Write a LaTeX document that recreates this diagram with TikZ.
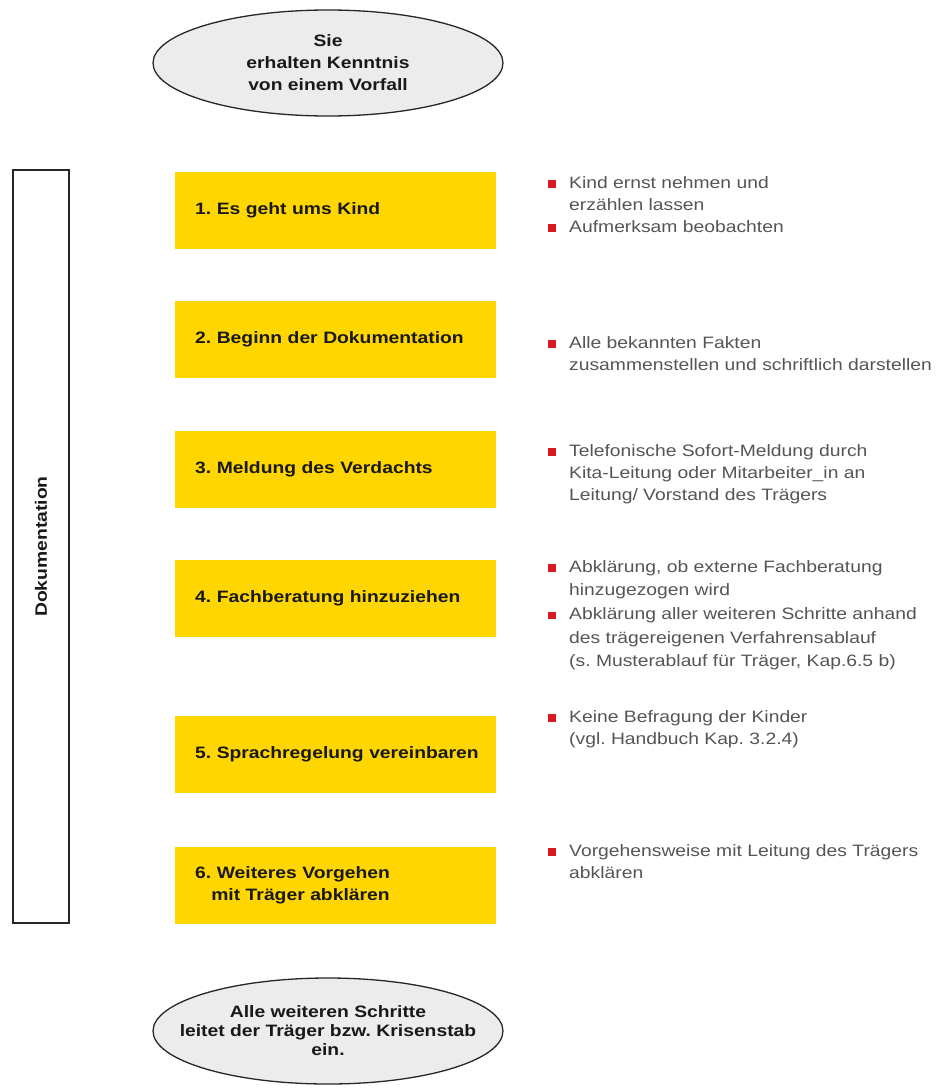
\documentclass[tikz,border=0pt]{standalone}
\usepackage{fontspec}
\setmainfont{Liberation Sans}[FakeStretch=1.17]
\usetikzlibrary{shapes.geometric}

\definecolor{kitayellow}{RGB}{255,214,0}
\definecolor{bulletred}{RGB}{215,25,32}
\definecolor{notegray}{RGB}{85,85,85}
\definecolor{ovalgray}{RGB}{236,236,236}

\frenchspacing

% red square bullet and the matching indent for follow-up lines
\newcommand{\redsq}{\makebox[21pt][l]{\textcolor{bulletred}{\rule[0.5pt]{7.5pt}{7.5pt}}}}
\newcommand{\noteindent}{\hspace*{21pt}}

\begin{document}
\begin{tikzpicture}[x=1pt,y=-1pt,
    oval/.style={ellipse, draw=black!85, line width=1.3pt, fill=ovalgray,
        minimum width=350pt, minimum height=106pt, inner sep=0pt, align=center,
        text=black!90, font=\bfseries\fontsize{16.5}{22}\selectfont},
    stepbox/.style={fill=kitayellow, anchor=west, minimum width=321pt, minimum height=77pt,
        text width=281pt, inner xsep=20pt, inner ysep=0pt, align=left, text=black!90,
        font=\bfseries\fontsize{16.5}{22}\selectfont},
    note/.style={anchor=north west, inner sep=0pt, align=left, text=notegray,
        font=\fontsize{16.5}{22}\selectfont},
    docbox/.style={draw=black!85, line width=1.4pt, rotate=90, minimum width=753pt,
        minimum height=56pt, inner sep=0pt, text=black!90,
        font=\bfseries\fontsize{16.5}{18}\selectfont}]

    \useasboundingbox (0,0) rectangle (938,1090);

    % start and end
    \node[oval] (start) at (328,63) {Sie\\erhalten Kenntnis\\von einem Vorfall};
    \node[oval, inner xsep=-28pt, font=\bfseries\fontsize{16.5}{19}\selectfont] (end) at (328,1031)
        {Alle weiteren Schritte\\leitet der Träger bzw. Krisenstab\\ein.};

    % documentation bar on the left
    \node[docbox] (doku) at (41,546.5) {Dokumentation};

    % the six steps
    \node[stepbox] (step1) at (175,210) {1. Es geht ums Kind};
    \node[stepbox] (step2) at (175,339.5) {2. Beginn der Dokumentation};
    \node[stepbox] (step3) at (175,469.5) {3. Meldung des Verdachts};
    \node[stepbox] (step4) at (175,598) {4. Fachberatung hinzuziehen};
    \node[stepbox] (step5) at (175,754.5) {\mbox{5. Sprachregelung vereinbaren}};
    \node[stepbox] (step6) at (175,885.5) {6. Weiteres Vorgehen\\\phantom{6.}mit Träger abklären};

    % notes next to the steps
    \node[note] (note1) at (548,176) {\redsq Kind ernst nehmen und\\
        \noteindent erzählen lassen\\
        \redsq Aufmerksam beobachten};
    \node[note] (note2) at (548,336) {\redsq Alle bekannten Fakten\\
        \noteindent zusammenstellen und schriftlich darstellen};
    \node[note] (note3) at (548,444) {\redsq Telefonische Sofort-Meldung durch\\
        \noteindent Kita-Leitung oder Mitarbeiter\_in an\\
        \noteindent Leitung/ Vorstand des Trägers};
    \node[note, font=\fontsize{16.5}{23.7}\selectfont] (note4) at (548,560) {\redsq Abklärung, ob externe Fachberatung\\
        \noteindent hinzugezogen wird\\
        \redsq Abklärung aller weiteren Schritte anhand\\
        \noteindent des trägereigenen Verfahrensablauf\\
        \noteindent (s. Musterablauf für Träger, Kap.6.5 b)};
    \node[note] (note5) at (548,710) {\redsq Keine Befragung der Kinder\\
        \noteindent (vgl. Handbuch Kap. 3.2.4)};
    \node[note] (note6) at (548,844) {\redsq Vorgehensweise mit Leitung des Trägers\\
        \noteindent abklären};

\end{tikzpicture}
\end{document}
